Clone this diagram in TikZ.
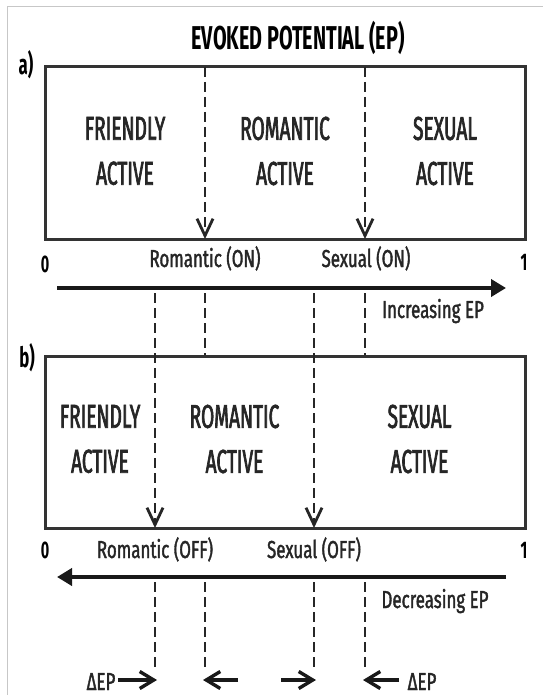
\documentclass[tikz,border=0pt]{standalone}
\usepackage{fontspec}
\usetikzlibrary{arrows.meta}
\newfontfamily\cfbox[FakeStretch=0.58,FakeBold=2]{Fira Sans}
\newfontfamily\cflab[FakeStretch=0.69,FakeBold=1.5]{Fira Sans}
\newfontfamily\cftit[FakeStretch=0.6]{Fira Sans}
\begin{document}
\begin{tikzpicture}[x=1pt,y=-1pt,
  zone/.style={font=\cfbox\fontsize{33}{45}\selectfont, align=center, inner sep=0pt, text=black!85},
  lab/.style={font=\cflab\fontsize{24.5}{28}\selectfont, anchor=base, inner sep=0pt, text=black!85},
  num/.style={font=\cftit\bfseries\fontsize{24}{28}\selectfont, anchor=base, inner sep=0pt},
  panel/.style={font=\cftit\bfseries\fontsize{28}{30}\selectfont, anchor=base, inner sep=0pt},
  frame/.style={draw=black!80, line width=3pt, minimum width=480pt, minimum height=172pt, inner sep=0pt},
  dashln/.style={draw=black!85, line width=2.8pt, dash pattern=on 10pt off 5pt},
  dashtip/.style={dashln, -{Straight Barb[length=17pt,width=16pt,line width=2.8pt]}},
  bigarrow/.style={draw=black!90, line width=3.8pt, -{Triangle[length=15pt,width=17pt]}},
  smallarrow/.style={draw=black!90, line width=3.4pt, -{Straight Barb[length=14pt,width=17pt,line width=3.4pt]}}
]
\useasboundingbox (0,0) rectangle (543,695);
\fill[white] (0,0) rectangle (543,695);
\draw[black!22, line width=1pt] (7,695) -- (7,7) -- (543,7);

% title
\node[font=\cftit\bfseries\fontsize{33}{36}\selectfont, anchor=base, inner sep=0pt] (title) at (298,50) {EVOKED POTENTIAL (EP)};

% ---------- panel a ----------
\node[panel] (pa) at (26,75) {a)};
\node[frame] (boxa) at (285,153) {};
\coordinate (a1t) at (205,67);  \coordinate (a1b) at (205,239);
\coordinate (a2t) at (365,67);  \coordinate (a2b) at (365,239);
\draw[dashtip] (a1t) -- (a1b);
\draw[dashtip] (a2t) -- (a2b);
\node[zone] (fa) at (125,151) {FRIENDLY\\ACTIVE};
\node[zone] (ra) at (285,151) {ROMANTIC\\ACTIVE};
\node[zone] (sa) at (445,151) {SEXUAL\\ACTIVE};
\node[num] (za) at (45,272) {0};
\node[num] (oa) at (524,270) {1};
\node[lab] (ron) at (205,267) {Romantic (ON)};
\node[lab] (son) at (366,267) {Sexual (ON)};
\coordinate (ia) at (57,288); \coordinate (ib) at (506,288);
\draw[bigarrow] (ia) -- (ib);
\node[lab] (inc) at (433,318) {Increasing EP};

% ---------- connecting dashes ----------
\coordinate (m1) at (155,293); \coordinate (m2) at (205,293);
\coordinate (m3) at (314,293); \coordinate (m4) at (365,293);
\coordinate (m2b) at (205,356); \coordinate (m4b) at (365,356);
\coordinate (b1b) at (155,528); \coordinate (b2b) at (314,528);
\draw[dashln] (m2) -- (m2b);
\draw[dashln] (m4) -- (m4b);

% ---------- panel b ----------
\node[panel] (pb) at (27,367) {b)};
\node[frame] (boxb) at (285,442) {};
\draw[dashtip] (m1) -- (b1b);
\draw[dashtip] (m3) -- (b2b);
\node[zone] (fb) at (100,439) {FRIENDLY\\ACTIVE};
\node[zone] (rb) at (234.5,439) {ROMANTIC\\ACTIVE};
\node[zone] (sb) at (419.5,439) {SEXUAL\\ACTIVE};
\node[num] (zb) at (45,558) {0};
\node[num] (ob) at (524,558) {1};
\node[lab] (roff) at (155,558) {Romantic (OFF)};
\node[lab] (soff) at (314,558) {Sexual (OFF)};
\coordinate (da) at (506,577); \coordinate (db) at (57,577);
\draw[bigarrow] (da) -- (db);
\node[lab] (dec) at (435,608) {Decreasing EP};

% ---------- lower dashes ----------
\coordinate (l1t) at (155,582); \coordinate (l1b) at (155,668);
\coordinate (l2t) at (205,582); \coordinate (l2b) at (205,668);
\coordinate (l3t) at (314,582); \coordinate (l3b) at (314,668);
\coordinate (l4t) at (365,582); \coordinate (l4b) at (365,668);
\draw[dashln] (l1t) -- (l1b);
\draw[dashln] (l2t) -- (l2b);
\draw[dashln] (l3t) -- (l3b);
\draw[dashln] (l4t) -- (l4b);

% ---------- delta arrows ----------
\coordinate (d1s) at (118,680); \coordinate (d1e) at (157,680);
\coordinate (d2s) at (238,680); \coordinate (d2e) at (203,680);
\coordinate (d3s) at (281,680); \coordinate (d3e) at (316,680);
\coordinate (d4s) at (399,680); \coordinate (d4e) at (363,680);
\draw[smallarrow] (d1s) -- (d1e);
\draw[smallarrow] (d2s) -- (d2e);
\draw[smallarrow] (d3s) -- (d3e);
\draw[smallarrow] (d4s) -- (d4e);
\node[lab] (dl) at (101,690) {ΔEP};
\node[lab] (dr) at (422,690) {ΔEP};
\end{tikzpicture}
\end{document}
